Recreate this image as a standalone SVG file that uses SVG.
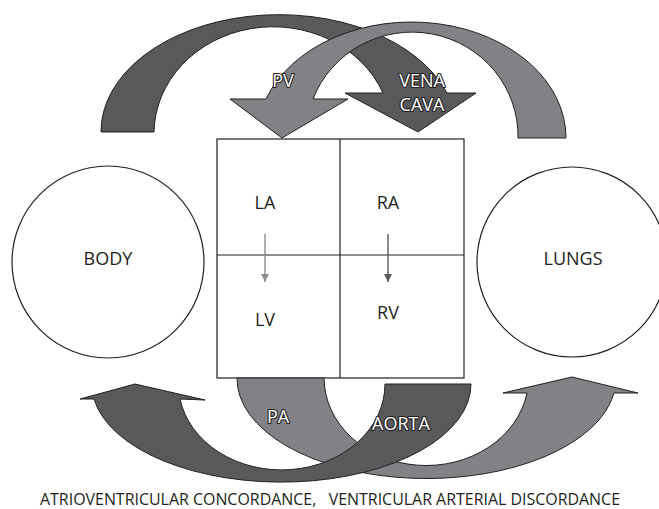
<svg xmlns="http://www.w3.org/2000/svg" width="659" height="509" viewBox="0 0 659 509">
  <style>
    .organ { fill: #ffffff; stroke: #231f20; stroke-width: 1.2; }
    .wall { fill: none; stroke: #231f20; stroke-width: 1.2; }
    .lbl { font-family: "Open Sans", "Noto Sans", sans-serif; font-size: 18px; fill: #231f20; text-anchor: middle; }
    .vessel { stroke: #231f20; stroke-width: 1; stroke-linejoin: miter; }
    .dark { fill: #58595b; }
    .light { fill: #818285; }
    .vlbl { font-family: "Open Sans", "Noto Sans", sans-serif; font-size: 18px; fill: #ffffff; stroke: #231f20; stroke-width: 2.2; stroke-linejoin: round; paint-order: stroke; text-anchor: middle; }
    .caption { font-family: "Open Sans", "Noto Sans", sans-serif; font-size: 16px; fill: #231f20; white-space: pre; }
  </style>
  <defs>
    <marker id="headLight" viewBox="0 0 10 10" refX="10" refY="5" markerWidth="8" markerHeight="8" markerUnits="userSpaceOnUse" orient="auto">
      <path d="M0,0 L10,5 L0,10 z" fill="#8c8c8e"/>
    </marker>
    <marker id="headDark" viewBox="0 0 10 10" refX="10" refY="5" markerWidth="8" markerHeight="8" markerUnits="userSpaceOnUse" orient="auto">
      <path d="M0,0 L10,5 L0,10 z" fill="#58595b"/>
    </marker>
  </defs>

  <!-- systemic and pulmonary beds -->
  <g id="body">
    <circle class="organ" cx="108" cy="262" r="96"/>
    <text class="lbl" x="108" y="265">BODY</text>
  </g>
  <g id="lungs">
    <circle class="organ" cx="572" cy="262" r="95"/>
    <text class="lbl" x="573" y="265">LUNGS</text>
  </g>

  <!-- four-chamber heart -->
  <g id="heart">
    <rect class="wall" x="217" y="139" width="247" height="239"/>
    <line class="wall" x1="340" y1="139" x2="340" y2="378"/>
    <line class="wall" x1="217" y1="255" x2="464" y2="255"/>
  </g>
  <g id="la"><text class="lbl" x="265" y="209">LA</text></g>
  <g id="ra"><text class="lbl" x="388" y="209">RA</text></g>
  <g id="lv"><text class="lbl" x="265" y="326">LV</text></g>
  <g id="rv"><text class="lbl" x="388" y="319">RV</text></g>

  <g id="connectors">
    <!-- atrioventricular valves -->
    <line x1="265" y1="234" x2="265" y2="282" stroke="#8c8c8e" stroke-width="1.4" marker-end="url(#headLight)"/>
    <line x1="388" y1="234" x2="388" y2="282" stroke="#58595b" stroke-width="1.4" marker-end="url(#headDark)"/>

    <!-- vena cava: body to right atrium -->
    <g id="vena-cava">
      <path class="vessel dark" d="M101,132 A178 117 0 0 1 447,93 L476,93 L418,132 L345,93 L383,93 A119 107 0 0 0 154,132 Z"/>
      <text class="vlbl" x="422" y="87">VENA</text>
      <text class="vlbl" x="422" y="111">CAVA</text>
    </g>
    <!-- pulmonary veins: lungs to left atrium -->
    <g id="pv">
      <path class="vessel light" d="M566,138 A154.5 116 0 0 0 266,99 L230,99 L282,138 L348,99 L313,99 A106 104 0 0 1 518,138 Z"/>
      <text class="vlbl" x="283" y="87">PV</text>
    </g>
    <!-- pulmonary artery: left ventricle to lungs -->
    <g id="pa">
      <path class="vessel light" d="M237,378 A189.5 100 0 0 0 614,393 L638,393 L572,377 L503,393 L527,393 A102.3 88 0 0 1 324,378 Z"/>
      <text class="vlbl" x="278" y="423">PA</text>
    </g>
    <!-- aorta: right ventricle to body -->
    <g id="aorta">
      <path class="vessel dark" d="M471,384 A189.6 98 0 0 1 94,399 L80,399 L135,384 L205,400 L180,399 A103.3 86 0 0 0 385,384 Z"/>
      <text class="vlbl" x="401" y="430">AORTA</text>
    </g>
  </g>

  <text class="caption" x="40" y="505" textLength="580" lengthAdjust="spacingAndGlyphs">ATRIOVENTRICULAR CONCORDANCE,   VENTRICULAR ARTERIAL DISCORDANCE</text>
</svg>
